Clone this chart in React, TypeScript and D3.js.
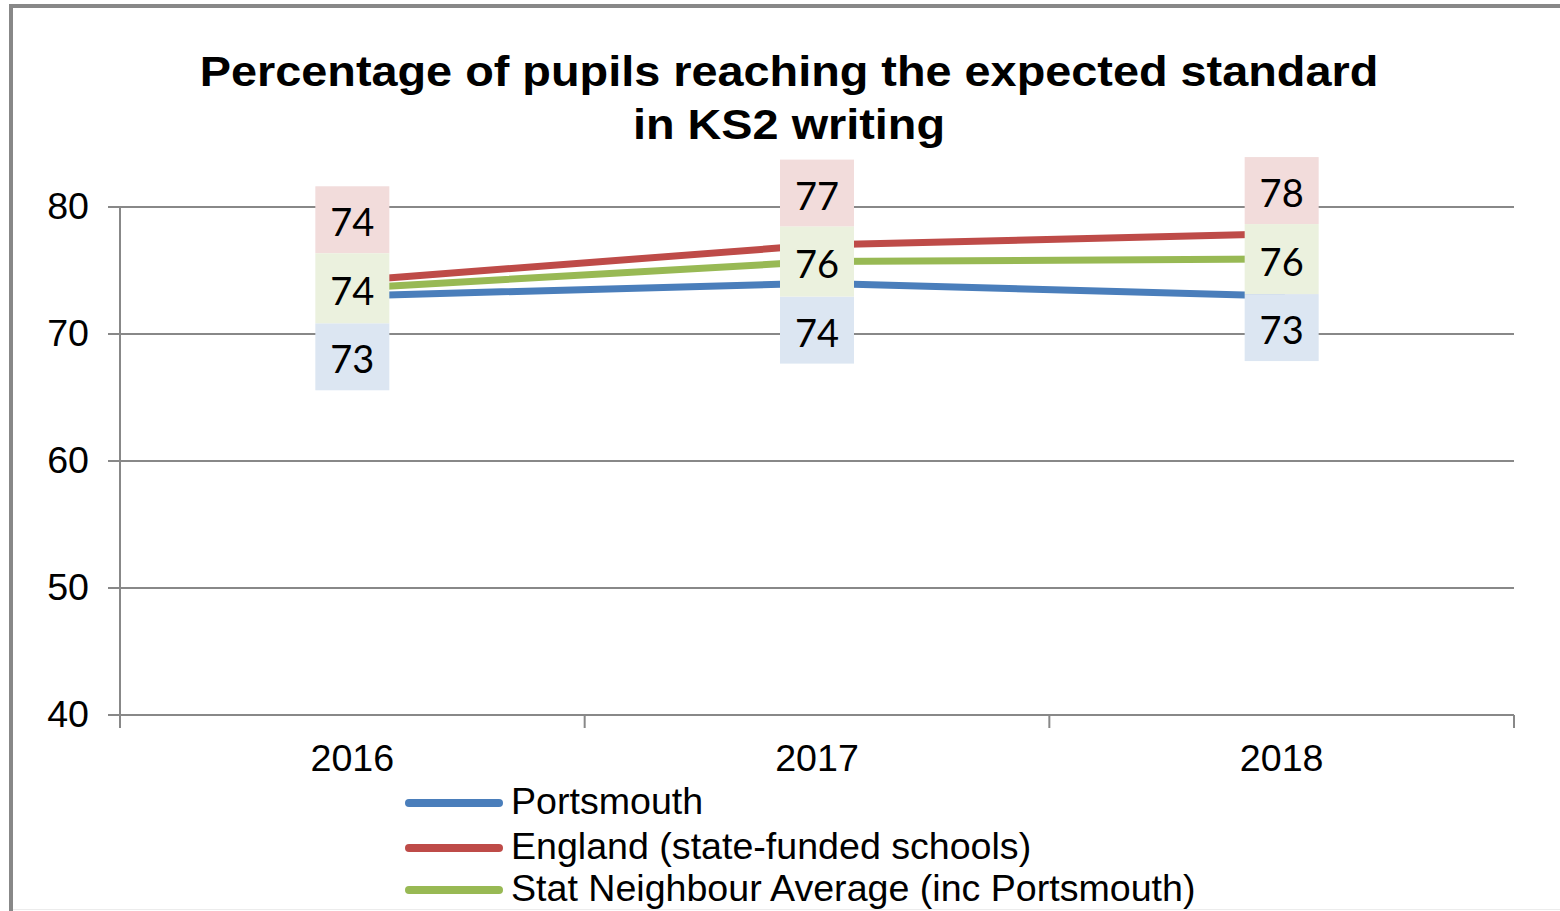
import React from "react";
import * as d3 from "d3";

const years = ["2016", "2017", "2018"];
const portsmouth = [73, 74, 73];
const england = [74.2, 77, 77.9];
const statNeighbour = [73.6, 75.7, 75.9];
const yTicks = [40, 50, 60, 70, 80];

const seriesNames = [
  "Portsmouth",
  "England (state-funded schools)",
  "Stat Neighbour Average (inc Portsmouth)",
];
const seriesColors = ["#4a7ebb", "#be4b48", "#98b954"];
const labelFills = ["#dce6f2", "#f2dcdb", "#ebf1de"];

const W = 1560;
const H = 911;

const App = () => {
  const x = d3.scaleBand<string>().domain(years).range([120, 1514]);
  const y = d3.scaleLinear().domain([40, 80]).range([715, 207]);
  const cx = (yr: string) => (x(yr) as number) + x.bandwidth() / 2;

  const series = [portsmouth, england, statNeighbour];
  const line = d3
    .line<number>()
    .x((d, i) => cx(years[i]))
    .y((d) => y(d));

  const axisFont = "'Liberation Sans', Arial, sans-serif";
  const labelFont = "Lato, 'Open Sans', sans-serif";
  const fs = 37.6;
  const boxW = 74;
  const boxH = 67;
  const half = 35;

  return (
    <svg
      width={W}
      height={H}
      style={{ position: "absolute", left: 0, top: 0, background: "#fff" }}
    >
      {/* chart frame */}
      <rect x={11} y={6} width={W + 20} height={H + 20} fill="#fff" stroke="#888" strokeWidth={4} />
      <line x1={13} x2={W} y1={909.5} y2={909.5} stroke="#ececec" strokeWidth={1} />

      {/* title, slightly stretched horizontally like the source */}
      <g transform="translate(789,0) scale(1.115,1)">
        <text x={0} y={86} textAnchor="middle" fontFamily={axisFont} fontWeight="bold" fontSize={42} fill="#000">
          Percentage of pupils reaching the expected standard
        </text>
        <text x={0} y={139} textAnchor="middle" fontFamily={axisFont} fontWeight="bold" fontSize={42} fill="#000">
          in KS2 writing
        </text>
      </g>

      {/* gridlines and y ticks */}
      {yTicks.map((t) => (
        <g key={t}>
          <line x1={108} x2={1514} y1={y(t)} y2={y(t)} stroke="#888" strokeWidth={2} />
          <text x={89} y={y(t)} dy="0.32em" textAnchor="end" fontFamily={axisFont} fontSize={fs} fill="#000">
            {t}
          </text>
        </g>
      ))}
      <line x1={120} x2={120} y1={y(80)} y2={728} stroke="#888" strokeWidth={2} />
      {years.map((yr) => (
        <line key={yr} x1={(x(yr) as number) + x.bandwidth()} x2={(x(yr) as number) + x.bandwidth()} y1={y(40)} y2={728} stroke="#888" strokeWidth={2} />
      ))}
      {years.map((yr) => (
        <text key={yr} x={cx(yr)} y={759} dy="0.32em" textAnchor="middle" fontFamily={axisFont} fontSize={fs} fill="#000">
          {yr}
        </text>
      ))}

      {/* series lines */}
      {series.map((s, i) => (
        <path key={i} d={line(s) as string} fill="none" stroke={seriesColors[i]} strokeWidth={7} strokeLinecap="round" />
      ))}

      {/* data labels */}
      {years.map((yr, i) => {
        const gc = y(statNeighbour[i]);
        const boxes = [
          { top: gc + half, v: portsmouth[i], fill: labelFills[0] },
          { top: gc - half - boxH, v: england[i], fill: labelFills[1] },
          { top: gc - half, v: statNeighbour[i], fill: labelFills[2], h: half * 2 },
        ];
        return (
          <g key={yr}>
            {boxes.map((b, j) => {
              const h = b.h ?? boxH;
              return (
                <g key={j}>
                  <rect x={cx(yr) - boxW / 2} y={b.top} width={boxW} height={h} fill={b.fill} />
                  <text x={cx(yr)} y={b.top + h / 2 + 3} dy="0.36em" textAnchor="middle" fontFamily={labelFont} fontSize={38} fill="#000">
                    {Math.round(b.v)}
                  </text>
                </g>
              );
            })}
          </g>
        );
      })}

      {/* legend */}
      {seriesNames.map((name, i) => {
        const ly = [803, 848, 890][i];
        return (
          <g key={name}>
            <line x1={409} x2={499} y1={ly} y2={ly} stroke={seriesColors[i]} strokeWidth={8} strokeLinecap="round" />
            <text x={511} y={ly} dy="0.3em" fontFamily={axisFont} fontSize={fs} fill="#000">
              {name}
            </text>
          </g>
        );
      })}
    </svg>
  );
};

export default App;
